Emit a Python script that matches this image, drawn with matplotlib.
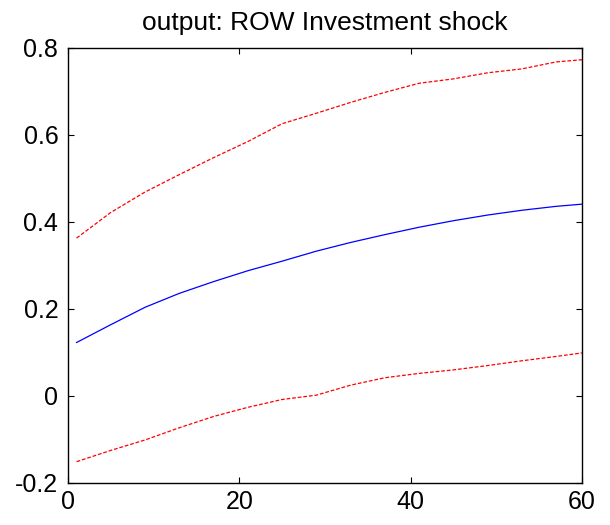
import matplotlib
matplotlib.use('Agg')
import matplotlib.pyplot as plt

plt.rcParams['font.family'] = ['Liberation Sans', 'DejaVu Sans']

periods = [1, 5, 9, 13, 17, 21, 25, 29, 33, 37, 41, 45, 49, 53, 57, 60]

# median response
median = [0.123, 0.164, 0.204, 0.236, 0.263, 0.288, 0.310, 0.333,
          0.353, 0.371, 0.388, 0.403, 0.416, 0.427, 0.436, 0.441]

# error bands
upper = [0.363, 0.422, 0.469, 0.509, 0.548, 0.585, 0.626, 0.650,
         0.675, 0.698, 0.719, 0.729, 0.743, 0.752, 0.768, 0.773]
lower = [-0.151, -0.125, -0.101, -0.073, -0.047, -0.026, -0.008, 0.002,
         0.025, 0.042, 0.052, 0.060, 0.070, 0.081, 0.091, 0.099]

x_ticks = [0, 20, 40, 60]
y_ticks = [-0.2, 0, 0.2, 0.4, 0.6, 0.8]
y_tick_labels = ['-0.2', '0', '0.2', '0.4', '0.6', '0.8']

fig = plt.figure(figsize=(6.1, 5.25), dpi=100)
ax = fig.add_axes([0.1115, 0.08, 0.8426, 0.8286])

ax.plot(periods, median, color='#0000ff', linewidth=0.9)
ax.plot(periods, upper, color='#ff0000', linewidth=0.9, linestyle=(0, (3, 1.5)))
ax.plot(periods, lower, color='#ff0000', linewidth=0.9, linestyle=(0, (3, 1.5)))

ax.set_xlim(0, 60)
ax.set_ylim(-0.2, 0.8)
ax.set_xticks(x_ticks)
ax.set_yticks(y_ticks)
ax.set_yticklabels(y_tick_labels)
ax.tick_params(direction='in', length=4, width=0.8, labelsize=18,
               top=True, right=True)
ax.tick_params(axis='x', pad=5)
ax.tick_params(axis='y', pad=7)
for s in ax.spines.values():
    s.set_linewidth(1.0)

ax.set_title('output: ROW Investment shock', fontsize=19, pad=13)

fig.savefig('out.png', dpi=100)
